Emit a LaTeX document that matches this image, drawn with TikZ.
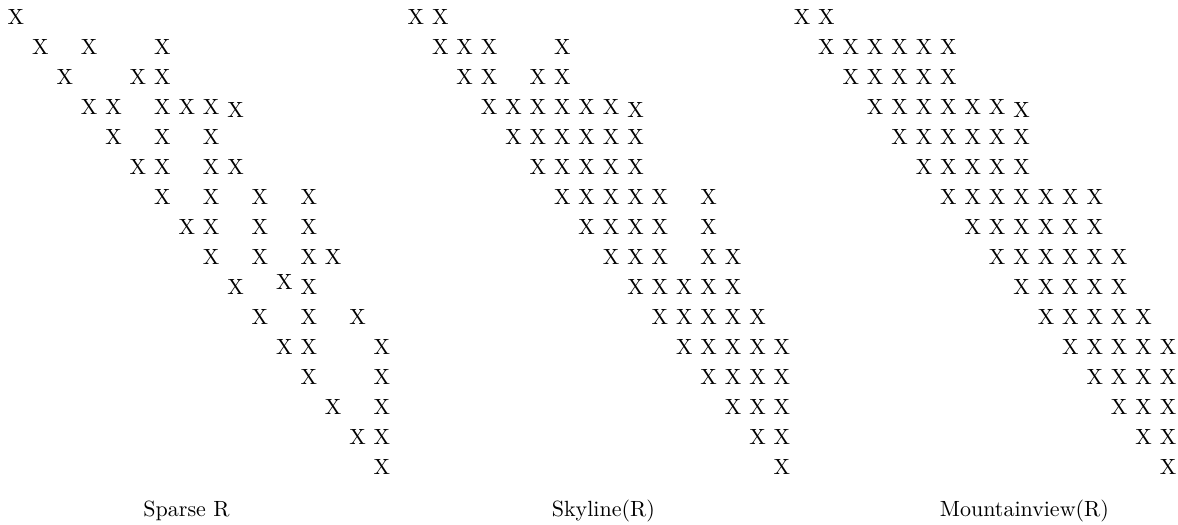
\documentclass[tikz,border=0pt]{standalone}
\usepackage{tikz}

\begin{document}
\begin{tikzpicture}[
  x=11.09pt, y=-13.64pt,
  entry/.style={inner sep=0pt},
  caption/.style={anchor=base, inner sep=0pt}
]
\useasboundingbox (-7.27pt,7.6pt) rectangle (528.2pt,-231pt);

% Sparse R
\foreach \r/\cols in {0/{0},1/{1,3,6},2/{2,5,6},3/{3,4,6,7,8},4/{4,6,8},5/{5,6,8,9},
    6/{6,8,10,12},7/{7,8,10,12},8/{8,10,12,13},9/{9,12},10/{10,12,14},11/{11,12,15},
    12/{12,15},13/{13,15},14/{14,15},15/{15}}
  \foreach \c in \cols
    \node[entry] (sp-\r-\c) at (\c,\r) {X};
\node[entry, yshift=-1.3pt] (sp-3-9) at (9,3) {X};
\node[entry, yshift=2pt] (sp-9-11) at (11,9) {X};

% Skyline(R)
\begin{scope}[xshift=181.8pt]
\foreach \r/\cols in {0/{0,1},1/{1,2,3,6},2/{2,3,5,6},3/{3,...,8},4/{4,...,9},5/{5,...,9},
    6/{6,...,10,12},7/{7,...,10,12},8/{8,9,10,12,13},9/{9,...,13},10/{10,...,14},
    11/{11,...,15},12/{12,...,15},13/{13,14,15},14/{14,15},15/{15}}
  \foreach \c in \cols
    \node[entry] (sk-\r-\c) at (\c,\r) {X};
\node[entry, yshift=-1.3pt] (sk-3-9) at (9,3) {X};
\end{scope}

% Mountainview(R)
\begin{scope}[xshift=357.3pt]
\foreach \r/\cols in {0/{0,1},1/{1,...,6},2/{2,...,6},3/{3,...,8},4/{4,...,9},5/{5,...,9},
    6/{6,...,12},7/{7,...,12},8/{8,...,13},9/{9,...,13},10/{10,...,14},
    11/{11,...,15},12/{12,...,15},13/{13,14,15},14/{14,15},15/{15}}
  \foreach \c in \cols
    \node[entry] (mv-\r-\c) at (\c,\r) {X};
\node[entry, yshift=-1.3pt] (mv-3-9) at (9,3) {X};
\end{scope}

\node[caption] (capsparse) at (77.5pt,-227.4pt) {Sparse R};
\node[caption] (capskyline) at (267pt,-227.4pt) {Skyline(R)};
\node[caption] (capmountain) at (458.4pt,-227.4pt) {Mountainview(R)};
\end{tikzpicture}
\end{document}
